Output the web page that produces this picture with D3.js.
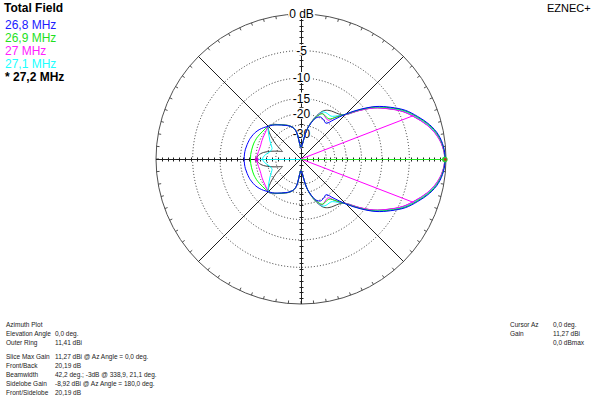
<!DOCTYPE html>
<html>
<head>
<meta charset="utf-8">
<script src="https://cdn.jsdelivr.net/npm/d3@7"></script>
<style>
  html, body { margin: 0; padding: 0; background: #fff; }
  svg { display: block; }
  text { font-family: Arial, "Liberation Sans", sans-serif; }
</style>
</head>
<body>
<svg id="chart" width="605" height="409"></svg>
<script>
// ---- Data -----------------------------------------------------------------
// Outer ring reference gain (dBi); every trace value below is in dB relative to it.
const outerRingDbi = 11.41;

// Azimuths (deg) of the sampled half pattern; the antenna is symmetric
// about boresight, so 180..360 mirrors these.
const azimuths = [0, 5, 10, 15, 20, 25, 30, 35, 40, 45,
  50, 55, 60, 65, 70, 75, 78, 80, 82, 85, 90, 95, 98, 100, 102, 105,
  110, 115, 120, 125, 130, 135, 140, 145, 150, 155, 158, 160, 165, 170, 175, 180];

const frequencies = ["26,8 MHz", "26,9 MHz", "27 MHz", "27,1 MHz", "27,2 MHz"];
const traceColors = ["#0000ff", "#00ff00", "#ff00ff", "#00ffff", "#404040"];
const legendColors = ["#2020ff", "#1fdf1f", "#ff20ff", "#20ffff", "#000000"];

const gain268 = [-0.10, -0.24, -0.66, -1.48, -2.66, -3.95, -5.8, -7.9, -10.8, -14.1,
  -17.8, -20.6, -20.0, -19.6, -20.6, -23.8, -26.5, -29.3, -33.5, -39.0, -43.0, -38.0, -31.0, -28.2, -26.8, -25.6,
  -24.3, -23.4, -22.4, -21.4, -20.4, -19.6, -18.7, -17.9, -17.3, -16.9, -16.7, -16.6, -16.4, -16.2, -16.1, -16.1];
const gain269 = [-0.12, -0.28, -0.74, -1.58, -2.78, -4.08, -5.95, -8.05, -10.95, -14.2,
  -16.8, -18.6, -18.5, -18.3, -20.2, -23.6, -26.5, -29.4, -33.8, -39.5, -44.0, -38.5, -31.0, -28.2, -26.8, -25.5,
  -24.2, -23.3, -22.3, -21.3, -20.3, -19.6, -19.4, -19.2, -18.9, -18.6, -18.5, -18.4, -18.3, -18.2, -18.1, -18.1];
const gain270 = [-0.16, -0.36, -0.9, -1.8, -3.04, -4.4, -6.3, -8.4, -11.3, -14.4,
  -16.6, -19.2, -18.8, -18.1, -20.0, -23.5, -26.5, -29.5, -34.0, -40.0, -45.0, -39.0, -31.0, -28.0, -26.7, -25.5,
  -24.2, -23.3, -22.3, -21.3, -20.2, -19.6, -20.0, -20.4, -20.6, -20.8, -20.9, -21.0, -21.0, -20.8, -20.5, -20.3];
const gain271 = [-0.14, -0.32, -0.84, -1.72, -2.94, -4.27, -6.15, -8.25, -11.15, -14.3,
  -16.2, -17.5, -17.4, -17.6, -19.8, -23.4, -26.5, -29.5, -34.0, -40.0, -45.0, -39.0, -31.0, -28.0, -26.7, -25.5,
  -24.2, -23.3, -22.3, -21.3, -20.1, -19.7, -21.0, -22.6, -24.0, -25.5, -26.2, -26.6, -26.3, -25.0, -23.5, -22.8];
const gain272 = [-0.14, -0.33, -0.87, -1.76, -3.0, -4.34, -6.25, -8.35, -11.25, -14.4,
  -15.5, -15.9, -16.3, -17.2, -19.6, -23.2, -26.3, -29.3, -34.0, -40.0, -45.0, -39.0, -31.0, -28.0, -26.6, -25.4,
  -24.1, -23.2, -22.2, -21.2, -20.0, -19.6, -21.5, -24.5, -28.0, -32.0, -34.0, -32.0, -27.0, -23.0, -21.0, -20.3];
const traceGains = [gain268, gain269, gain270, gain271, gain272];
// The selected frequency (27,2 MHz) is drawn first so the others stay visible over it.
const drawOrder = [4, 3, 2, 1, 0];

// Pattern markers (azimuth deg, dB relative to outer ring)
const maxGainMark = { az: 0, db: -0.14 };
const beamwidthMarks = [{ az: 21.1, db: -3.14 }, { az: -21.1, db: -3.14 }];
const sidelobeMark = { az: 180, db: -20.33 };

// Grid rings and their labels
const ringLevels = [-5, -10, -15, -20, -25, -30];
const ringLabels = [{ db: 0, text: "0 dB" }, { db: -5, text: "-5" }, { db: -10, text: "-10" },
  { db: -15, text: "-15" }, { db: -20, text: "-20" }, { db: -30, text: "-30" }];
const axisTickCount = 25;

// Text blocks: [label, value, y]
const infoLeft = [
  ["Azimuth Plot", "", 324],
  ["Elevation Angle", "0,0 deg.", 333],
  ["Outer Ring", "11,41 dBi", 342],
  ["Slice Max Gain", "11,27 dBi @ Az Angle = 0,0 deg.", 356],
  ["Front/Back", "20,19 dB", 365],
  ["Beamwidth", "42,2 deg.; -3dB @ 338,9, 21,1 deg.", 374],
  ["Sidelobe Gain", "-8,92 dBi @ Az Angle = 180,0 deg.", 383],
  ["Front/Sidelobe", "20,19 dB", 392]
];
const infoRight = [
  ["Cursor Az", "0,0 deg.", 324],
  ["Gain", "11,27 dBi", 333],
  ["", "0,0 dBmax", 342]
];

// ---- Geometry -------------------------------------------------------------
const svg = d3.select("#chart");
const cx = 301, cy = 159, R = 145;

// ARRL log scale: every 2 dB shrinks the radius by a factor of 0.89.
const logRadius = d3.scaleLog().domain([R * Math.pow(0.89, 25), R]).range([-50, 0]);
const rad = db => logRadius.invert(db);
const toRad = az => Math.PI / 2 - az * Math.PI / 180;   // azimuth (CCW from east) -> d3 angle
const px = (az, r) => cx + r * Math.cos(az * Math.PI / 180);
const py = (az, r) => cy - r * Math.sin(az * Math.PI / 180);

const plot = svg.append("g");
const grid = plot.append("g");

// Dotted dB rings
grid.selectAll("circle.ring").data(ringLevels).enter().append("circle")
  .attr("cx", cx).attr("cy", cy).attr("r", d => rad(d))
  .attr("fill", "none").attr("stroke", "#303030").attr("stroke-width", 1)
  .attr("stroke-dasharray", "1 2");

// Outer ring with 5 degree ticks
grid.append("circle").attr("cx", cx).attr("cy", cy).attr("r", R)
  .attr("fill", "none").attr("stroke", "#505050").attr("stroke-width", 1);
grid.selectAll("line.deg").data(d3.range(0, 360, 5)).enter().append("line")
  .attr("x1", d => px(d, R - 3)).attr("y1", d => py(d, R - 3))
  .attr("x2", d => px(d, R)).attr("y2", d => py(d, R))
  .attr("stroke", "#505050").attr("stroke-width", 1);

// Diagonal spokes
grid.selectAll("line.diag").data([45, 135, 225, 315]).enter().append("line")
  .attr("x1", cx).attr("y1", cy)
  .attr("x2", d => px(d, R)).attr("y2", d => py(d, R))
  .attr("stroke", "#202020").attr("stroke-width", 1);

// Main axes
grid.append("line").attr("x1", cx - R).attr("y1", cy + 0.5).attr("x2", cx + R).attr("y2", cy + 0.5)
  .attr("stroke", "#202020").attr("stroke-width", 1);
grid.append("line").attr("x1", cx + 0.5).attr("y1", cy - R).attr("x2", cx + 0.5).attr("y2", cy + R)
  .attr("stroke", "#202020").attr("stroke-width", 1);

// Evenly spaced ticks along the four axis arms
const tickR = d3.scaleLinear().domain([0, axisTickCount]).range([0, R]);
const tickIdx = d3.range(1, axisTickCount);
[0, 90, 180, 270].forEach(az => {
  const horiz = az % 180 === 0;
  grid.selectAll(null).data(tickIdx).enter().append("line")
    .attr("x1", d => Math.round(px(az, tickR(d))) + 0.5 + (horiz ? 0 : -2))
    .attr("x2", d => Math.round(px(az, tickR(d))) + 0.5 + (horiz ? 0 : 2))
    .attr("y1", d => Math.round(py(az, tickR(d))) + 0.5 + (horiz ? -2 : 0))
    .attr("y2", d => Math.round(py(az, tickR(d))) + 0.5 + (horiz ? 2 : 0))
    .attr("stroke", "#202020").attr("stroke-width", 1);
});

// Ring labels on the vertical axis, each on a white patch
const labels = plot.append("g");
ringLabels.forEach(l => {
  const y = cy - rad(l.db);
  const t = labels.append("text").attr("x", cx + 0.5).attr("y", y).attr("dy", "0.36em")
    .attr("text-anchor", "middle").attr("font-size", 12).attr("fill", "#000").text(l.text);
  const w = t.node().getComputedTextLength();
  labels.insert("rect", () => t.node())
    .attr("x", cx + 0.5 - w / 2 - 1).attr("y", y - 6)
    .attr("width", w + 2).attr("height", 11).attr("fill", "#fff");
});

// ---- Pattern traces -------------------------------------------------------
const radial = d3.lineRadial()
  .angle(d => toRad(d.az))
  .radius(d => rad(d.db))
  .curve(d3.curveCatmullRomClosed.alpha(0.5));

const traces = plot.append("g").attr("transform", `translate(${cx},${cy})`);
drawOrder.forEach(i => {
  const g = traceGains[i];
  const half = azimuths.map((az, k) => ({ az, db: g[k] }));
  const mirror = half.slice(1, -1).reverse().map(p => ({ az: 360 - p.az, db: p.db }));
  traces.append("path").datum(half.concat(mirror))
    .attr("d", radial)
    .attr("fill", "none").attr("stroke", traceColors[i]).attr("stroke-width", 1);
});

// ---- Markers ---------------------------------------------------------------
const marks = plot.append("g");
beamwidthMarks.forEach(m => {
  marks.append("line").attr("x1", cx).attr("y1", cy)
    .attr("x2", px(m.az, rad(m.db))).attr("y2", py(m.az, rad(m.db)))
    .attr("stroke", "#ff00ff").attr("stroke-width", 1);
});
marks.append("line").attr("x1", cx).attr("y1", cy + 0.5)
  .attr("x2", px(sidelobeMark.az, rad(sidelobeMark.db))).attr("y2", cy + 0.5)
  .attr("stroke", "#00e8e8").attr("stroke-width", 1);
marks.append("line").attr("x1", cx).attr("y1", cy + 0.5)
  .attr("x2", px(maxGainMark.az, rad(maxGainMark.db))).attr("y2", cy + 0.5)
  .attr("stroke", "#20e020").attr("stroke-width", 1);
marks.append("circle").attr("cx", px(sidelobeMark.az, rad(sidelobeMark.db))).attr("cy", cy + 0.5)
  .attr("r", 2).attr("fill", "#d000d0");
marks.append("circle").attr("cx", px(maxGainMark.az, rad(maxGainMark.db))).attr("cy", cy + 0.5)
  .attr("r", 2.8).attr("fill", "#30d030");
marks.append("circle").attr("cx", px(maxGainMark.az, rad(maxGainMark.db)) + 0.5).attr("cy", cy + 0.5)
  .attr("r", 1.4).attr("fill", "#c03020");

// ---- Titles and legend -----------------------------------------------------
svg.append("text").attr("x", 4).attr("y", 12).attr("font-size", 12).attr("font-weight", "bold")
  .text("Total Field");
svg.append("text").attr("x", 547).attr("y", 12).attr("font-size", 11).text("EZNEC+");

const legend = svg.append("g");
frequencies.forEach((f, i) => {
  const last = i === frequencies.length - 1;
  legend.append("text").attr("x", 5).attr("y", 29 + i * 13).attr("font-size", 12)
    .attr("font-weight", last ? "bold" : "normal")
    .attr("fill", legendColors[i])
    .text(last ? "* " + f : f);
});

// ---- Summary text ------------------------------------------------------------
const info = svg.append("g").attr("font-size", 6.5).attr("fill", "#1a1a1a");
infoLeft.forEach(row => {
  info.append("text").attr("x", 6).attr("y", row[2] + 2.5).text(row[0]);
  info.append("text").attr("x", 55).attr("y", row[2] + 2.5).text(row[1]);
});
infoRight.forEach(row => {
  info.append("text").attr("x", 510).attr("y", row[2] + 2.5).text(row[0]);
  info.append("text").attr("x", 553).attr("y", row[2] + 2.5).text(row[1]);
});
</script>
</body>
</html>
